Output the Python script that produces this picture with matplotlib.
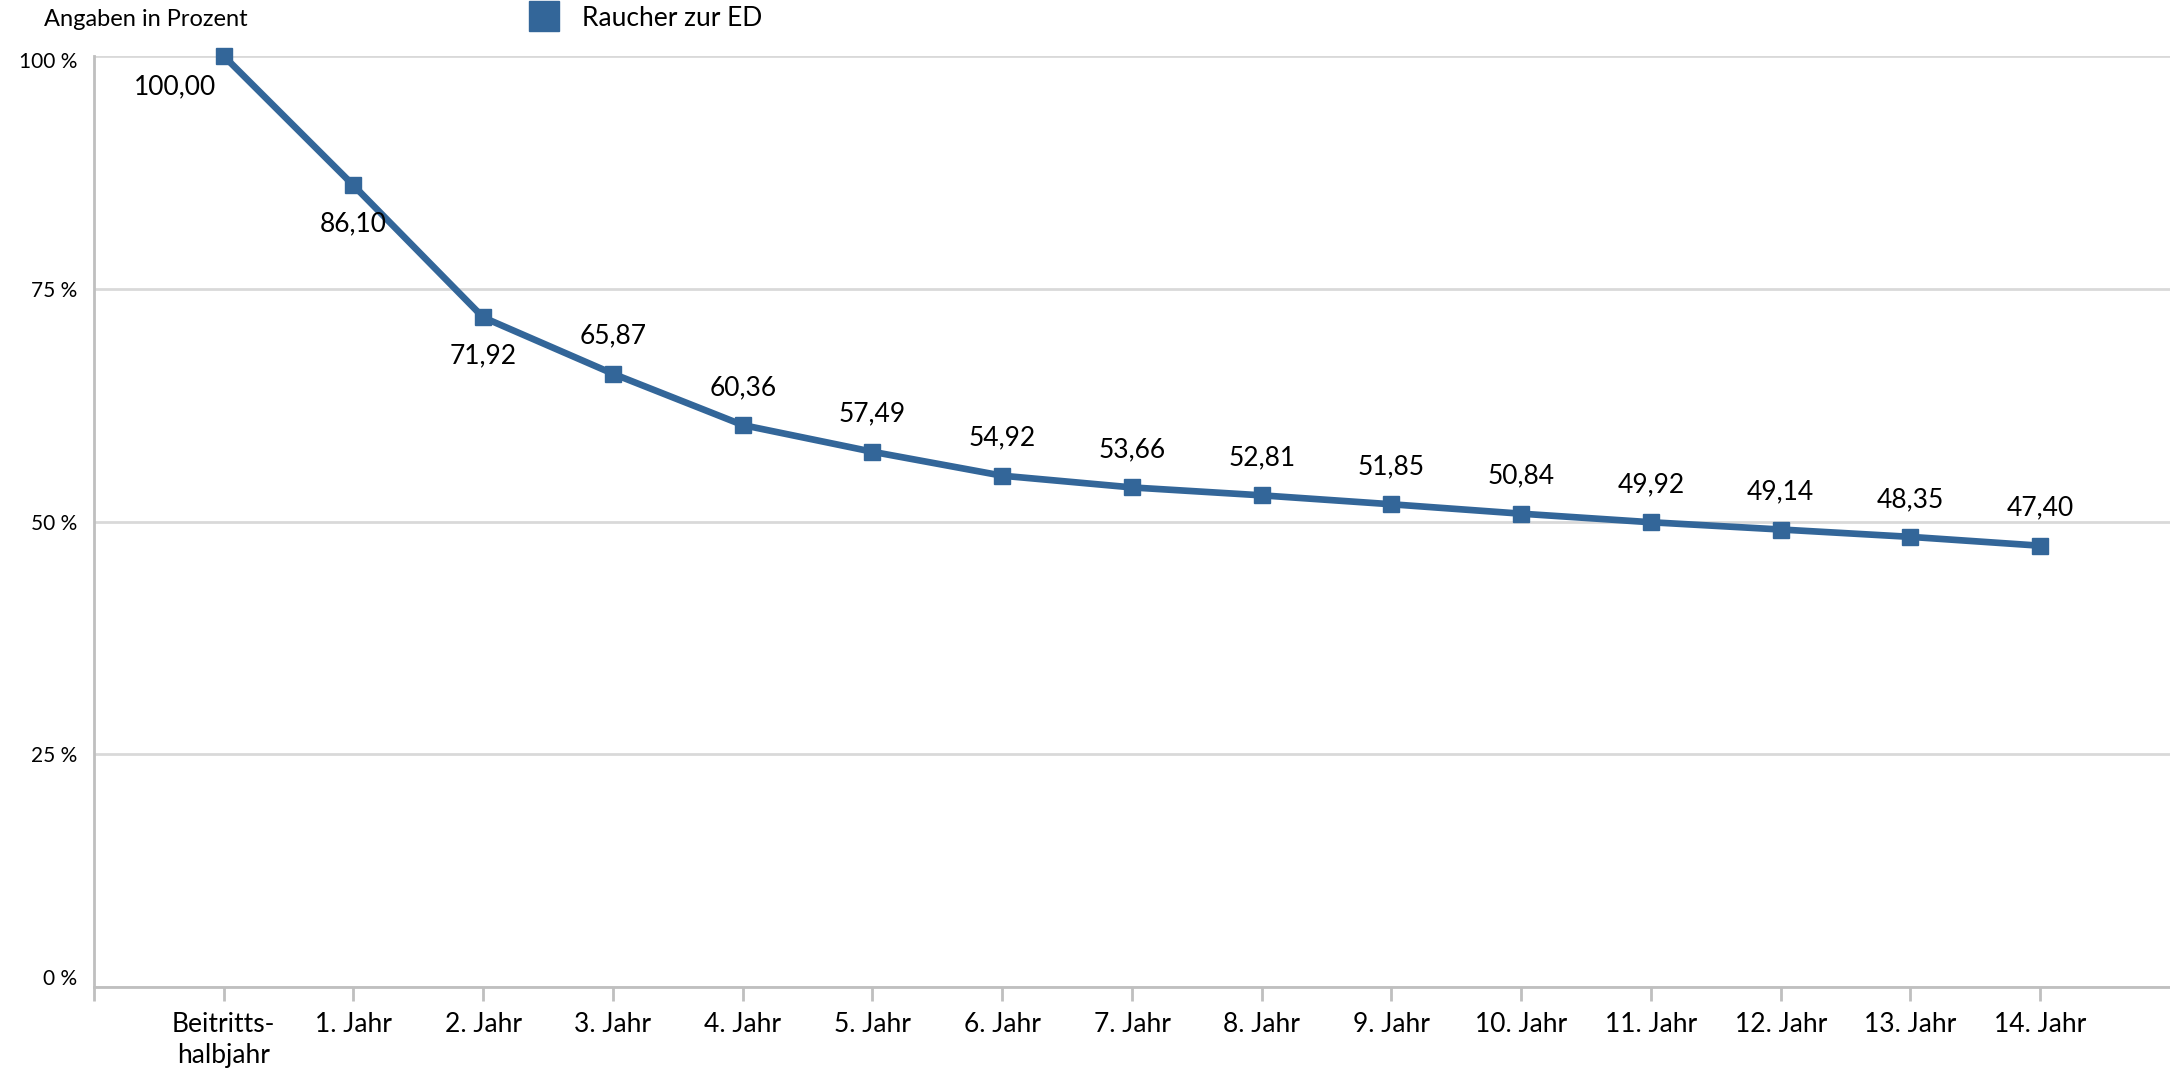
import matplotlib.pyplot as plt
from matplotlib.lines import Line2D
from matplotlib.ticker import FixedLocator
import matplotlib.transforms as mtransforms

# Daten
categories = ["Beitritts-\nhalbjahr"] + [f"{i}. Jahr" for i in range(1, 15)]
values = [100.00, 86.10, 71.92, 65.87, 60.36, 57.49, 54.92, 53.66,
          52.81, 51.85, 50.84, 49.92, 49.14, 48.35, 47.40]
y_ticks = [0, 25, 50, 75, 100]
y_ticklabels = ["0 %", "25 %", "50 %", "75 %", "100 %"]
series_name = "Raucher zur ED"

BLUE = "#336699"
GRID = "#d9d9d9"
AXIS = "#bfbfbf"

plt.rcParams['font.family'] = ['Lato', 'DejaVu Sans']

fig = plt.figure(figsize=(21.7, 10.68), dpi=100)
ax = fig.add_axes([0.0433, 0.0758, 0.9567, 0.8718])

x = list(range(len(values)))
ax.plot(x, values, color=BLUE, linewidth=4.8, marker="s", markersize=11.5,
        clip_on=False, zorder=3)

ax.set_xlim(-1, 15)
ax.set_ylim(0, 100)

# Gitter und Achsen
ax.set_yticks(y_ticks)
ax.set_yticklabels(y_ticklabels, fontsize=15)
ax.yaxis.grid(True, color=GRID, linewidth=2)
ax.set_axisbelow(True)
ax.tick_params(axis="y", length=0, pad=12)
# "0 %" sitzt etwas über der Linie, "100 %" etwas darunter
lbls = ax.get_yticklabels()
up = mtransforms.ScaledTranslation(0, 10 / 100, fig.dpi_scale_trans)
down = mtransforms.ScaledTranslation(0, -4 / 100, fig.dpi_scale_trans)
lbls[0].set_transform(lbls[0].get_transform() + up)
lbls[-1].set_transform(lbls[-1].get_transform() + down)

ax.set_xticks(x)
ax.set_xticklabels(categories, fontsize=19, linespacing=1.3)
ax.xaxis.set_minor_locator(FixedLocator([-1]))
ax.tick_params(axis="x", which="both", length=10, width=2, color=AXIS, pad=8)

for side in ["top", "right"]:
    ax.spines[side].set_visible(False)
for side in ["left", "bottom"]:
    ax.spines[side].set_color(AXIS)
    ax.spines[side].set_linewidth(2)

# Datenbeschriftungen
for i, v in enumerate(values):
    txt = f"{v:.2f}".replace(".", ",")
    if i == 0:
        offset = (-35, -22)
    elif i < 3:
        offset = (0, -28)
    else:
        offset = (0, 27)
    ax.annotate(txt, (i, v), xytext=offset, textcoords="offset points",
                ha="center", va="center", fontsize=19)

# Legende und Einheit
handle = Line2D([], [], linestyle="none", marker="s", markersize=22,
                color=BLUE)
fig.legend(handles=[handle], labels=[series_name], loc="center left",
           bbox_to_anchor=(528 / 2170, 1 - 18 / 1068), frameon=False,
           fontsize=19, handlelength=1.2, handletextpad=0.85,
           borderpad=0, borderaxespad=0)
fig.text(44 / 2170, 1 - 19 / 1068, "Angaben in Prozent", fontsize=17,
         va="center", ha="left")

fig.savefig("out.png", dpi=100)
